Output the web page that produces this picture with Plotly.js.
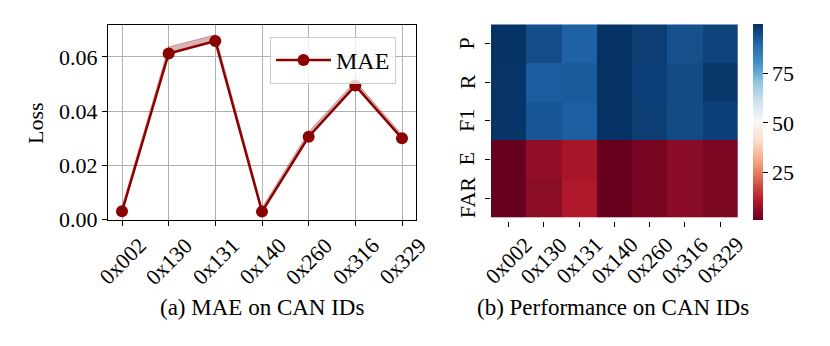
<!DOCTYPE html>
<html>
<head>
<meta charset="utf-8">
<script src="https://cdn.plot.ly/plotly-3.0.1.min.js"></script>
<style>html,body{margin:0;padding:0;background:#fff;}#chart{width:830px;height:346px;}</style>
</head>
<body>
<div id="chart"></div>
<script>
// ---- data ----
const canIds = ['0x002', '0x130', '0x131', '0x140', '0x260', '0x316', '0x329'];
const maeMean = [0.0029, 0.0613, 0.0659, 0.0028, 0.0305, 0.0494, 0.0299];
const maeUpper = [0.0045, 0.0637, 0.0682, 0.0042, 0.0323, 0.0510, 0.0312];
const maeLower = [0.0025, 0.0610, 0.0655, 0.0025, 0.0300, 0.0490, 0.0295];
const lossTicks = [0, 0.02, 0.04, 0.06];

const metrics = ['P', 'R', 'F1', 'E', 'FAR'];
const perfP   = [99.5, 94.6, 91.0, 99.5, 97.5, 94.0, 96.5];
const perfR   = [99.0, 92.0, 92.5, 99.5, 97.0, 95.0, 98.5];
const perfF1  = [99.0, 93.0, 91.5, 99.5, 97.5, 95.0, 97.0];
const perfE   = [0.5, 6.2, 9.1, 0.5, 2.6, 5.1, 3.0];
const perfFAR = [0.5, 5.3, 10.0, 0.5, 2.8, 5.1, 3.3];
const cbTicks = [25, 50, 75];

const captionA = '(a) MAE on CAN IDs';
const captionB = '(b) Performance on CAN IDs';

// ---- styling ----
const FONT = '"Liberation Serif", "Times New Roman", Times, serif';
const W = 830, H = 346;
const px = v => v / W;
const py = v => (H - v) / H;

const rdbu = [
  [0.0, '#67001f'], [0.1, '#b2182b'], [0.2, '#d6604d'], [0.3, '#f4a582'],
  [0.4, '#fddbc7'], [0.5, '#f7f7f7'], [0.6, '#d1e5f0'], [0.7, '#92c5de'],
  [0.8, '#4393c3'], [0.9, '#2166ac'], [1.0, '#053061']
];

const traces = [
  {x: canIds, y: maeLower, type: 'scatter', mode: 'lines',
   line: {width: 0, color: 'rgba(139,0,0,0)'}, showlegend: false, hoverinfo: 'skip',
   xaxis: 'x', yaxis: 'y'},
  {x: canIds, y: maeUpper, type: 'scatter', mode: 'lines', fill: 'tonexty',
   fillcolor: 'rgba(139,0,0,0.3)', line: {width: 1, color: 'rgba(139,0,0,0.3)'},
   showlegend: false, hoverinfo: 'skip', xaxis: 'x', yaxis: 'y'},
  {x: canIds, y: maeMean, type: 'scatter', mode: 'lines+markers', name: 'MAE',
   line: {color: '#8b0000', width: 2.5}, marker: {color: '#8b0000', size: 12},
   xaxis: 'x', yaxis: 'y'},
  {x: canIds, y: metrics, z: [perfP, perfR, perfF1, perfE, perfFAR], type: 'heatmap',
   colorscale: rdbu, zmin: 0.5, zmax: 100, xaxis: 'x2', yaxis: 'y2', showscale: true,
   colorbar: {x: px(753.3), xanchor: 'left', y: py(122.5), yanchor: 'middle',
     thickness: 9.5, thicknessmode: 'pixels', len: (220.7 - 24.3) / H, lenmode: 'fraction',
     xpad: 0, ypad: 0, outlinewidth: 0, tickvals: cbTicks, ticks: 'outside', ticklen: 5,
     tickwidth: 1, tickcolor: '#000', tickfont: {family: FONT, size: 22, color: '#000'}}}
];

const annotations = [];
canIds.forEach((c, i) => {
  // category axes place category i at index i
  annotations.push({x: i, xref: 'x', y: py(261), yref: 'paper', text: c, showarrow: false,
    xanchor: 'center', yanchor: 'middle',
    textangle: -45, font: {family: FONT, size: 22, color: '#000'}});
  annotations.push({x: i, xref: 'x2', y: py(260.5), yref: 'paper', text: c, showarrow: false,
    xanchor: 'center', yanchor: 'middle',
    textangle: -45, font: {family: FONT, size: 22, color: '#000'}});
});
metrics.forEach((m, i) => {
  annotations.push({x: px(467), xref: 'paper', y: i, yref: 'y2', text: m, showarrow: false,
    xanchor: 'center', yanchor: 'middle',
    textangle: -90, font: {family: FONT, size: 22, color: '#000'}});
});
annotations.push({x: px(35), xref: 'paper', y: py(123), yref: 'paper', text: 'Loss',
  xanchor: 'center', yanchor: 'middle',
  showarrow: false, textangle: -90, font: {family: FONT, size: 22, color: '#000'}});
annotations.push({x: px(262), xref: 'paper', y: py(307), yref: 'paper', text: captionA,
  xanchor: 'center', yanchor: 'middle',
  showarrow: false, font: {family: FONT, size: 23, color: '#000'}});
annotations.push({x: px(613), xref: 'paper', y: py(307), yref: 'paper', text: captionB,
  xanchor: 'center', yanchor: 'middle',
  showarrow: false, font: {family: FONT, size: 23, color: '#000'}});

const layout = {
  width: W, height: H,
  margin: {l: 0, r: 0, t: 0, b: 0},
  paper_bgcolor: '#fff', plot_bgcolor: '#fff',
  font: {family: FONT, color: '#000'},
  showlegend: true,
  legend: {x: px(270), y: py(37), xanchor: 'left', yanchor: 'top',
    bgcolor: 'rgba(255,255,255,0.8)', bordercolor: '#cccccc', borderwidth: 1,
    font: {family: FONT, size: 24, color: '#000'}, itemwidth: 55,
    entrywidth: 128, entrywidthmode: 'pixels'},
  xaxis: {domain: [px(108), px(416)], type: 'category', range: [-0.3, 6.3],
    showticklabels: false, ticks: 'outside', ticklen: 5, tickcolor: '#000',
    showgrid: true, gridcolor: '#b0b0b0', gridwidth: 1,
    showline: true, linecolor: '#000', linewidth: 1, mirror: true, zeroline: false,
    anchor: 'y'},
  yaxis: {domain: [py(220), py(24.5)], range: [-0.0003, 0.072], tickvals: lossTicks,
    tickformat: '.2f', ticks: 'outside', ticklen: 5, tickcolor: '#000',
    tickfont: {family: FONT, size: 22, color: '#000'},
    showgrid: true, gridcolor: '#b0b0b0', gridwidth: 1,
    showline: true, linecolor: '#000', linewidth: 1, mirror: true, zeroline: false,
    anchor: 'x'},
  xaxis2: {domain: [px(491), px(737.7)], type: 'category', range: [-0.5, 6.5],
    showticklabels: false, ticks: 'outside', ticklen: 5, tickcolor: '#000',
    showgrid: false, showline: false, zeroline: false, anchor: 'y2'},
  yaxis2: {domain: [py(220.7), py(24.3)], type: 'category', autorange: 'reversed',
    showticklabels: false, ticks: 'outside', ticklen: 5, tickcolor: '#000',
    showgrid: false, showline: false, zeroline: false, anchor: 'x2'},
  annotations: annotations
};

Plotly.newPlot('chart', traces, layout, {displayModeBar: false, staticPlot: true});
</script>
</body>
</html>
